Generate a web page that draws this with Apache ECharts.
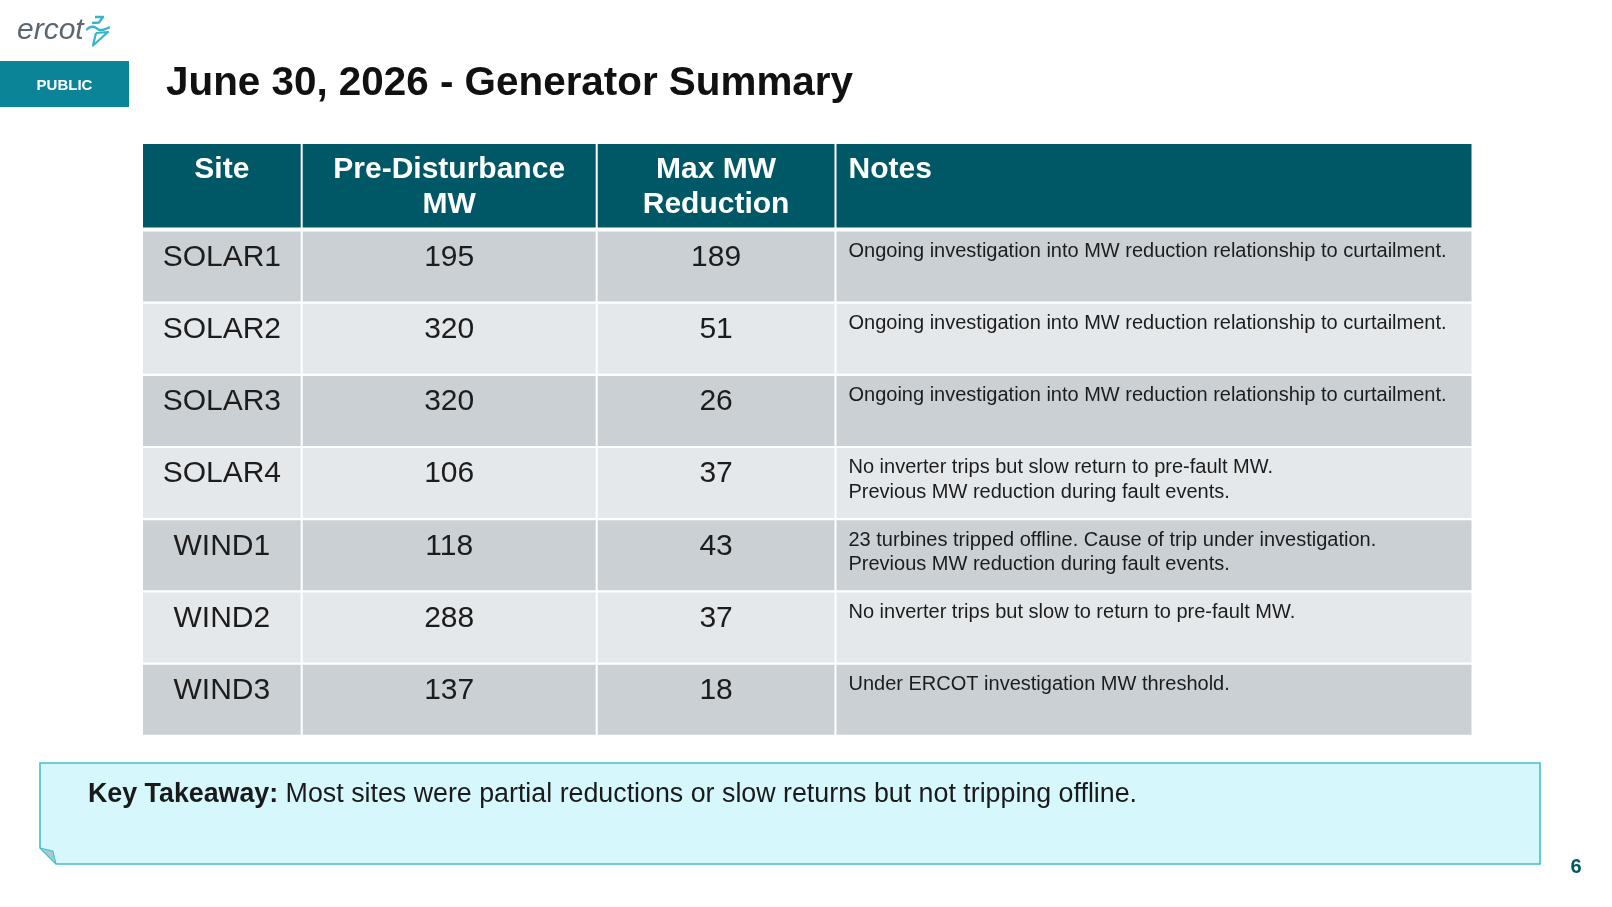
<!DOCTYPE html>
<html>
<head>
<meta charset="utf-8">
<script src="https://cdn.jsdelivr.net/npm/echarts@6/dist/echarts.min.js"></script>
<style>
html,body{margin:0;padding:0;background:#ffffff;}
#chart{width:1612px;height:907px;}
</style>
</head>
<body>
<div id="chart"></div>
<script>
// ---------------- data ----------------
const titleText = 'June 30, 2026 - Generator Summary';
const headers = ['Site', 'Pre-Disturbance\nMW', 'Max MW\nReduction', 'Notes'];
const sites = ['SOLAR1', 'SOLAR2', 'SOLAR3', 'SOLAR4', 'WIND1', 'WIND2', 'WIND3'];
const preDisturbanceMW = [195, 320, 320, 106, 118, 288, 137];
const maxMWReduction = [189, 51, 26, 37, 43, 37, 18];
const notes = [
  'Ongoing investigation into MW reduction relationship to curtailment.',
  'Ongoing investigation into MW reduction relationship to curtailment.',
  'Ongoing investigation into MW reduction relationship to curtailment.',
  'No inverter trips but slow return to pre-fault MW.\nPrevious MW reduction during fault events.',
  '23 turbines tripped offline. Cause of trip under investigation.\nPrevious MW reduction during fault events.',
  'No inverter trips but slow to return to pre-fault MW.',
  'Under ERCOT investigation MW threshold.'
];
const takeawayLabel = 'Key Takeaway:';
const takeawayText = 'Most sites were partial reductions or slow returns but not tripping offline.';
const pageNumber = '6';
const logoText = 'ercot';
const badgeText = 'PUBLIC';

// ---------------- layout (table units) ----------------
const colEdges = [0, 158.7, 453.7, 692.5, 1328.5];
const headerH = 83.5;
const firstRowTop = 87.5;
const rowPitch = 72.2;
const rowH = 70;
const tableH = firstRowTop + rowPitch * (sites.length - 1) + rowH;

const FONT = '"Liberation Sans", Arial, Helvetica, sans-serif';
const headerColor = '#005766';
const rowColors = ['#cbd0d4', '#e5e8ea'];
const textColor = '#1c1c1c';

const columns = [
  sites,
  preDisturbanceMW.map(String),
  maxMWReduction.map(String),
  notes
];

function cellBox(api, c, top, h) {
  const p0 = api.coord([colEdges[c], top]);
  const p1 = api.coord([colEdges[c + 1], top + h]);
  let x = p0[0], w = p1[0] - p0[0];
  if (c > 0) { x += 1; w -= 1; }
  if (c < colEdges.length - 2) { w -= 1; }
  return { x: x, y: p0[1], width: w, height: p1[1] - p0[1] };
}

function headerRender(params, api) {
  const c = api.value(0);
  const b = cellBox(api, c, 0, headerH);
  const isNotes = c === 3;
  return {
    type: 'group',
    children: [
      { type: 'rect', shape: b, style: { fill: headerColor } },
      {
        type: 'text',
        x: isNotes ? b.x + 12 : b.x + b.width / 2,
        y: b.y + 8.5,
        style: {
          text: headers[c],
          fill: '#ffffff',
          font: 'bold 30px ' + FONT,
          align: isNotes ? 'left' : 'center',
          verticalAlign: 'top',
          lineHeight: 35
        }
      }
    ]
  };
}

function bodyRender(params, api) {
  const c = api.value(0);
  const r = api.value(1);
  const top = firstRowTop + r * rowPitch;
  const b = cellBox(api, c, top, rowH);
  const isNotes = c === 3;
  const txt = columns[c][r];
  const textEl = isNotes ? {
    type: 'text',
    x: b.x + 12,
    y: b.y + 7.6,
    style: {
      text: txt,
      fill: textColor,
      font: '20px ' + FONT,
      align: 'left',
      verticalAlign: 'top',
      lineHeight: 24.2
    }
  } : {
    type: 'text',
    x: b.x + b.width / 2,
    y: b.y + 26,
    style: {
      text: txt,
      fill: textColor,
      font: '30px ' + FONT,
      align: 'center',
      verticalAlign: 'middle'
    }
  };
  return {
    type: 'group',
    children: [
      { type: 'rect', shape: b, style: { fill: rowColors[r % 2] } },
      textEl
    ]
  };
}

const series = [{
  type: 'custom',
  name: 'header',
  coordinateSystem: 'cartesian2d',
  renderItem: headerRender,
  clip: false,
  data: headers.map((h, c) => [c, -1])
}];
columns.forEach((col, c) => {
  series.push({
    type: 'custom',
    name: headers[c],
    coordinateSystem: 'cartesian2d',
    renderItem: bodyRender,
    clip: false,
    data: col.map((v, r) => [c, r])
  });
});

const chart = echarts.init(document.getElementById('chart'), null, { renderer: 'canvas' });
chart.setOption({
  animation: false,
  backgroundColor: '#ffffff',
  tooltip: { show: false },
  grid: { left: 143, top: 144, width: colEdges[colEdges.length - 1], height: tableH },
  xAxis: { type: 'value', min: 0, max: colEdges[colEdges.length - 1], show: false },
  yAxis: { type: 'value', inverse: true, min: 0, max: tableH, show: false },
  series: series,
  graphic: [
    // logo text
    {
      type: 'text', x: 17, y: 31,
      style: { text: logoText, fill: '#5b6770', font: 'italic 30px ' + FONT, align: 'left', verticalAlign: 'middle' }
    },
    // logo mark
    {
      type: 'polyline',
      shape: { points: [[95, 17], [103, 17], [99, 22.5], [92, 23]] },
      style: { stroke: '#35b6ca', lineWidth: 2.4, fill: null, lineJoin: 'round' }
    },
    {
      type: 'polyline',
      shape: { points: [[87, 29.5], [90, 27.2], [93.5, 26.8], [97, 28.5], [100, 30], [104, 29.5], [109, 27.5]], smooth: 0.4 },
      style: { stroke: '#35b6ca', lineWidth: 2.4, fill: null, lineCap: 'round' }
    },
    {
      type: 'polyline',
      shape: { points: [[96, 33], [108, 32], [93, 45.5], [96, 33]] },
      style: { stroke: '#35b6ca', lineWidth: 2.2, fill: null, lineJoin: 'round' }
    },
    // PUBLIC badge
    { type: 'rect', shape: { x: 0, y: 61, width: 129, height: 46 }, style: { fill: '#0b8497' } },
    {
      type: 'text', x: 64.5, y: 86,
      style: { text: badgeText, fill: '#ffffff', font: 'bold 15px ' + FONT, align: 'center', verticalAlign: 'middle' }
    },
    // Title
    {
      type: 'text', x: 166, y: 84,
      style: { text: titleText, fill: '#111111', font: 'bold 40.4px ' + FONT, align: 'left', verticalAlign: 'middle' }
    },
    // Callout box
    {
      type: 'polygon',
      shape: { points: [[40, 763], [1540, 763], [1540, 864], [56, 864], [40, 848]] },
      style: { fill: '#d6f8fd', stroke: '#41bfd0', lineWidth: 1.6 }
    },
    {
      type: 'polygon',
      shape: { points: [[40, 848], [53, 851], [56, 864]] },
      style: { fill: '#a8c6cb', stroke: '#41bfd0', lineWidth: 1 }
    },
    {
      type: 'text', x: 88, y: 795,
      style: {
        text: '{b|' + takeawayLabel + '} ' + takeawayText,
        fill: '#1a1a1a',
        font: '26.8px ' + FONT,
        align: 'left',
        verticalAlign: 'middle',
        rich: {
          b: { fontWeight: 'bold', fontSize: 26.8, fontFamily: FONT, fill: '#1a1a1a' }
        }
      }
    },
    // Page number
    {
      type: 'text', x: 1576, y: 867,
      style: { text: pageNumber, fill: '#005766', font: 'bold 20px ' + FONT, align: 'center', verticalAlign: 'middle' }
    }
  ]
});
</script>
</body>
</html>
